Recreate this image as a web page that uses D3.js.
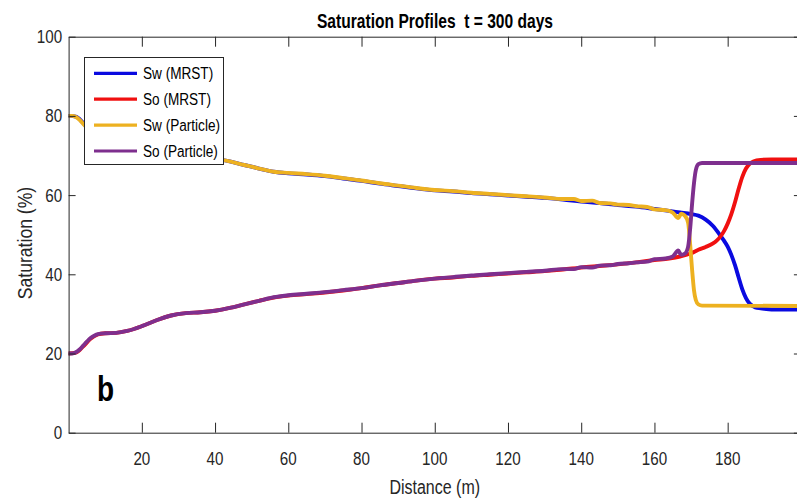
<!DOCTYPE html>
<html>
<head>
<meta charset="utf-8">
<script src="https://cdn.jsdelivr.net/npm/d3@7/dist/d3.min.js"></script>
<style>
  html, body { margin: 0; padding: 0; background: #fff; }
  svg { display: block; }
  text { font-family: "Liberation Sans", Arial, Helvetica, sans-serif; white-space: pre; }
</style>
</head>
<body>
<svg id="chart" width="797" height="500"></svg>
<script>
// Saturation profiles along the core at t = 300 days: MRST reference vs particle solver.
const title = "Saturation Profiles  t = 300 days";
const xLabel = "Distance (m)";
const yLabel = "Saturation (%)";
const panelTag = "b";

const xTicks = [20, 40, 60, 80, 100, 120, 140, 160, 180, 200];
const xTickLabels = ["20", "40", "60", "80", "100", "120", "140", "160", "180"];
const yTicks = [0, 20, 40, 60, 80, 100];

const seriesNames = ["Sw (MRST)", "So (MRST)", "Sw (Particle)", "So (Particle)"];
const seriesColors = ["#0a0ae0", "#f01010", "#edb120", "#7e2f8e"];

// [distance m, saturation %]
const swMrst = [[0,80],[2,79.8],[4,78.2],[6,76.3],[8,75.2],[10,74.9],[13,74.8],[16,74.3],[20,73.1],[24,71.6],[28,70.4],[32,69.8],[36,69.6],[40,69.2],[44,68.5],[48,67.6],[52,66.7],[56,65.9],[60,65.5],[65,65.2],[70,64.8],[75,64.2],[80,63.6],[85,62.9],[90,62.3],[95,61.7],[100,61.2],[105,60.9],[110,60.5],[115,60.2],[120,59.9],[125,59.6],[130,59.3],[135,58.9],[140,58.4],[145,58.0],[150,57.5],[155,57.1],[160,56.5],[164,56.0],[167,55.6],[170,55.2],[172,54.8],[174,53.8],[176,52.2],[178,49.8],[179,48.5],[180,47.0],[181,44.9],[182,42.3],[183,39.2],[184,36.2],[185,34.0],[186,32.6],[187,31.9],[188,31.5],[190,31.3],[193,31.1],[200,31.1]];

const soMrst = [[0,20],[2,20.2],[4,21.8],[6,23.7],[8,24.8],[10,25.1],[13,25.2],[16,25.7],[20,26.9],[24,28.4],[28,29.6],[32,30.2],[36,30.4],[40,30.8],[44,31.5],[48,32.4],[52,33.3],[56,34.1],[60,34.6],[65,35.0],[70,35.4],[75,35.9],[80,36.5],[85,37.2],[90,37.8],[95,38.4],[100,38.9],[105,39.2],[110,39.6],[115,39.9],[120,40.2],[125,40.5],[130,40.8],[135,41.2],[140,41.7],[145,42.1],[150,42.5],[155,43.0],[160,43.6],[164,44.0],[167,44.5],[170,45.3],[172,46.2],[174,46.9],[176,47.8],[177,48.5],[178,49.5],[179,50.9],[180,52.8],[181,55.2],[182,58.2],[183,61.6],[184,64.6],[185,66.7],[186,67.9],[187,68.5],[189,68.9],[192,69.0],[200,69.0]];

const swParticle = [[0,80],[1,80],[2,79.7],[3,79],[4,78],[5,77],[6,76.1],[7,75.5],[8,75.1],[10,74.9],[13,74.8],[16,74.3],[20,73.1],[24,71.6],[28,70.4],[32,69.8],[36,69.6],[40,69.2],[44,68.5],[48,67.6],[52,66.7],[56,65.9],[60,65.6],[65,65.3],[70,64.9],[75,64.3],[80,63.7],[85,63.0],[90,62.4],[95,61.8],[100,61.3],[105,61.0],[110,60.6],[115,60.3],[120,60.0],[125,59.7],[130,59.4],[135,59.0],[138,59.0],[140,58.5],[143,58.6],[145,58.0],[148,57.9],[150,57.6],[153,57.5],[155,57.2],[158,57.0],[160,56.4],[163,56.2],[165,55.6],[166.5,54.2],[167.3,55.3],[168.3,54.8],[169.2,53],[169.8,47],[170.3,41],[170.8,36],[171.3,33.5],[172,32.4],[173,32.1],[200,32.0]];

const soParticle = [[0,20],[1,20],[2,20.3],[3,21],[4,22],[5,23],[6,23.9],[7,24.5],[8,24.9],[10,25.1],[13,25.2],[16,25.7],[20,26.9],[24,28.4],[28,29.6],[32,30.2],[36,30.4],[40,30.8],[44,31.5],[48,32.4],[52,33.3],[56,34.2],[60,34.7],[65,35.1],[70,35.5],[75,36.0],[80,36.5],[85,37.2],[90,37.8],[95,38.4],[100,38.9],[105,39.3],[110,39.7],[115,40.0],[120,40.3],[125,40.6],[130,40.9],[135,41.3],[138,41.3],[140,41.8],[143,41.7],[145,42.2],[148,42.3],[150,42.6],[153,42.8],[155,43.0],[158,43.2],[160,43.8],[163,44.0],[165,44.5],[166.5,46.0],[167.3,44.9],[168.3,45.2],[169.2,47],[169.8,52],[170.3,58],[170.8,63],[171.3,66.3],[172,67.8],[173,68.1],[200,68.1]];

const series = [swMrst, soMrst, swParticle, soParticle];

// ---- layout ----
const svg = d3.select("#chart");
const W = 797, H = 500;
const plot = { left: 68.6, right: 800.9, top: 36.7, bottom: 432.7 };
const axisColor = "#262626";
const sx = 0.8; // condensed lettering

svg.append("rect").attr("width", W).attr("height", H).attr("fill", "#fff");

const x = d3.scaleLinear().domain([0, 200]).range([plot.left, plot.right]);
const y = d3.scaleLinear().domain([0, 100]).range([plot.bottom, plot.top]);

function label(g, txt, tx, ty, opts) {
  const o = Object.assign({ size: 19, anchor: "middle", weight: "normal", scale: sx, rotate: 0, fill: axisColor }, opts || {});
  return g.append("text")
    .attr("transform", `translate(${tx},${ty}) rotate(${o.rotate}) scale(${o.scale},1)`)
    .attr("text-anchor", o.anchor)
    .attr("font-size", o.size)
    .attr("font-weight", o.weight)
    .attr("fill", o.fill)
    .text(txt);
}

// ---- curves ----
svg.append("clipPath").attr("id", "plotClip")
  .append("rect")
  .attr("x", plot.left).attr("y", plot.top)
  .attr("width", plot.right - plot.left).attr("height", plot.bottom - plot.top);

const line = d3.line()
  .x(d => x(d[0]))
  .y(d => y(d[1]))
  .curve(d3.curveMonotoneX);

const curves = svg.append("g").attr("clip-path", "url(#plotClip)");
series.forEach((s, i) => {
  curves.append("path")
    .datum(s)
    .attr("fill", "none")
    .attr("stroke", seriesColors[i])
    .attr("stroke-width", 3.9)
    .attr("stroke-linejoin", "round")
    .attr("stroke-linecap", "round")
    .attr("d", line);
});

// ---- axes (box with inward ticks) ----
function styleAxis(g) {
  g.selectAll("path, line").attr("stroke", axisColor).attr("stroke-width", 1);
  g.selectAll("text").remove();
}

svg.append("g").attr("transform", `translate(0,${plot.bottom})`)
  .call(d3.axisBottom(x).tickValues(xTicks).tickSizeInner(-10).tickSizeOuter(0)).call(styleAxis);
svg.append("g").attr("transform", `translate(0,${plot.top})`)
  .call(d3.axisTop(x).tickValues(xTicks).tickSizeInner(-10).tickSizeOuter(0)).call(styleAxis);
svg.append("g").attr("transform", `translate(${plot.left},0)`)
  .call(d3.axisLeft(y).tickValues(yTicks).tickSizeInner(-7).tickSizeOuter(0)).call(styleAxis);
svg.append("g").attr("transform", `translate(${plot.right},0)`)
  .call(d3.axisRight(y).tickValues(yTicks).tickSizeInner(-7).tickSizeOuter(0)).call(styleAxis);

// tick labels
const tl = svg.append("g");
xTickLabels.forEach(t => label(tl, t, x(+t), 465));
yTicks.forEach(t => label(tl, String(t), plot.left - 6.5, y(t) + 6.5, { anchor: "end" }));

// titles
label(svg, title, 435, 28, { size: 20, weight: "bold", fill: "#000", scale: 0.78 });
label(svg, xLabel, (plot.left + plot.right) / 2, 494, { size: 20 });
label(svg, yLabel, 32, 243, { size: 20, rotate: -90, scale: 0.88 });
label(svg, panelTag, 97, 401, { size: 35, weight: "bold", anchor: "start", scale: 0.8, fill: "#000" });

// ---- legend ----
const lg = svg.append("g");
lg.append("rect")
  .attr("x", 84.5).attr("y", 57.5).attr("width", 139).attr("height", 107)
  .attr("fill", "#fff").attr("stroke", axisColor).attr("stroke-width", 1);
const rowY = d3.scalePoint().domain(seriesNames).range([73.3, 151]);
seriesNames.forEach((n, i) => {
  const yy = rowY(n);
  lg.append("line")
    .attr("x1", 94).attr("x2", 137).attr("y1", yy).attr("y2", yy)
    .attr("stroke", seriesColors[i]).attr("stroke-width", 3.2);
  label(lg, n, 143, yy + 6, { size: 17, anchor: "start", scale: 0.8, fill: "#000" });
});
</script>
</body>
</html>
